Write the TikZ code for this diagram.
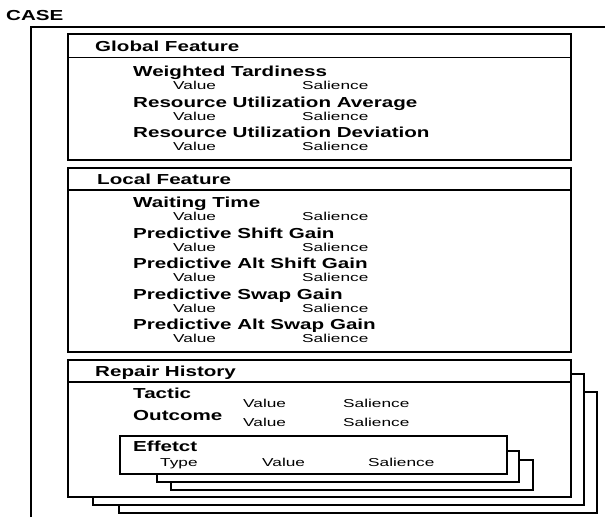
\documentclass[tikz,border=0pt]{standalone}
\usepackage{fontspec}
\setmainfont{Liberation Sans}
\newfontfamily\widebold[FakeStretch=1.42]{Liberation Sans Bold}
\newfontfamily\wideplain[FakeStretch=1.5]{Liberation Sans}
\tikzset{
  ttl/.style={anchor=base west,inner sep=0pt,yshift=-5.2pt,font=\widebold\fontsize{14.5}{14.5}\selectfont},
  val/.style={anchor=base west,inner sep=0pt,yshift=-4.1pt,font=\wideplain\fontsize{11.5}{11.5}\selectfont},
  card/.style={draw,fill=white,line width=1.1pt}
}
\begin{document}
\begin{tikzpicture}[x=1pt,y=-1pt]
\useasboundingbox (0,0) rectangle (605,517);
\node[ttl] (case) at (6,15) {CASE};
\draw[line width=1.1pt] (31,517) -- (31,27) -- (605,27);
\draw[card] (68,34) rectangle (571,160) (68,57.5) -- (571,57.5);
\node[ttl] (gf) at (95,46) {Global Feature};
\foreach \t/\y [count=\i] in {Weighted Tardiness/71,Resource Utilization Average/102,Resource Utilization Deviation/132}{
  \node[ttl] (g\i) at (133,\y) {\t};
  \node[val] (gv\i) at (173,\y+14) {Value};
  \node[val] (gs\i) at (302,\y+14) {Salience};
}
\draw[card] (68,168) rectangle (571,352) (68,190) -- (571,190);
\node[ttl] (lf) at (97,179) {Local Feature};
\foreach \t/\y [count=\i] in {Waiting Time/202,Predictive Shift Gain/233,Predictive Alt Shift Gain/263,Predictive Swap Gain/294,Predictive Alt Swap Gain/324}{
  \node[ttl] (l\i) at (133,\y) {\t};
  \node[val] (lv\i) at (173,\y+14) {Value};
  \node[val] (ls\i) at (302,\y+14) {Salience};
}
\draw[card] (119,392) rectangle (597,513);
\draw[card] (93,374) rectangle (584,505);
\draw[card] (68,360) rectangle (571,497) (68,382) -- (571,382);
\node[ttl] (rh) at (95,371) {Repair History};
\node[ttl] (tac) at (133,393) {Tactic};
\node[ttl] (out) at (133,415) {Outcome};
\node[val] (tv) at (243,403) {Value};
\node[val] (ts) at (343,403) {Salience};
\node[val] (ov) at (243,422) {Value};
\node[val] (os) at (343,422) {Salience};
\draw[card] (171,460) rectangle (533,490);
\draw[card] (157,451) rectangle (519,482);
\draw[card] (120,436) rectangle (507,474);
\node[ttl] (eff) at (133,446) {Effetct};
\node[val] (et) at (160,462) {Type};
\node[val] (ev) at (262,462) {Value};
\node[val] (es) at (368,462) {Salience};
\end{tikzpicture}
\end{document}
